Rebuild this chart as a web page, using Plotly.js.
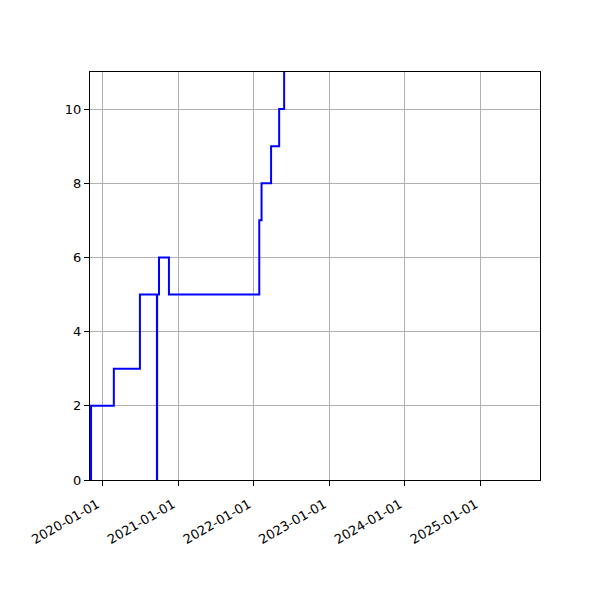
<!DOCTYPE html>
<html>
<head>
<meta charset="utf-8">
<script src="https://cdn.plot.ly/plotly-3.0.1.min.js"></script>
<style>
  html, body { margin: 0; padding: 0; background: white; }
</style>
</head>
<body>
<div id="chart" style="width:600px;height:600px;"></div>
<script>
// dates where the count changes, and the count from that date on
const stepDates = ['2019-11-08', '2019-11-08', '2020-02-26', '2020-07-01', '2020-09-21',
                   '2020-09-22', '2020-10-01', '2020-11-18', '2022-01-28', '2022-02-08',
                   '2022-03-26', '2022-05-04', '2022-05-28'];
const stepValues = [0, 2, 3, 5, 0, 5, 6, 5, 7, 8, 9, 10, 12];
const yTicks = [0, 2, 4, 6, 8, 10];

const trace = {
  type: 'scatter',
  mode: 'lines',
  x: stepDates,
  y: stepValues,
  line: { shape: 'hv', color: 'blue', width: 2 },
  showlegend: false,
  hoverinfo: 'x+y'
};

const axisStyle = {
  showline: true,
  mirror: true,
  linecolor: 'black',
  linewidth: 1,
  ticks: 'outside',
  ticklen: 5,
  tickwidth: 1,
  tickcolor: 'black',
  showgrid: true,
  gridcolor: '#b0b0b0',
  gridwidth: 1,
  zeroline: false,
  tickfont: { family: 'DejaVu Sans', size: 13, color: 'black' }
};

const layout = {
  width: 600,
  height: 600,
  margin: { l: 90, r: 60, t: 72, b: 120, pad: 0 },
  paper_bgcolor: 'white',
  plot_bgcolor: 'white',
  xaxis: Object.assign({}, axisStyle, {
    type: 'date',
    range: ['2019-11-03', '2025-10-14'],
    tick0: '2020-01-01',
    dtick: 'M12',
    tickformat: '%Y-%m-%d',
    tickangle: -30,
    ticklabelstandoff: 6,
    ticklabelshift: -5
  }),
  yaxis: Object.assign({}, axisStyle, {
    range: [0, 11],
    tickvals: yTicks,
    ticktext: yTicks.map(String)
  })
};

Plotly.newPlot('chart', [trace], layout, { displayModeBar: false, staticPlot: true });
</script>
</body>
</html>
